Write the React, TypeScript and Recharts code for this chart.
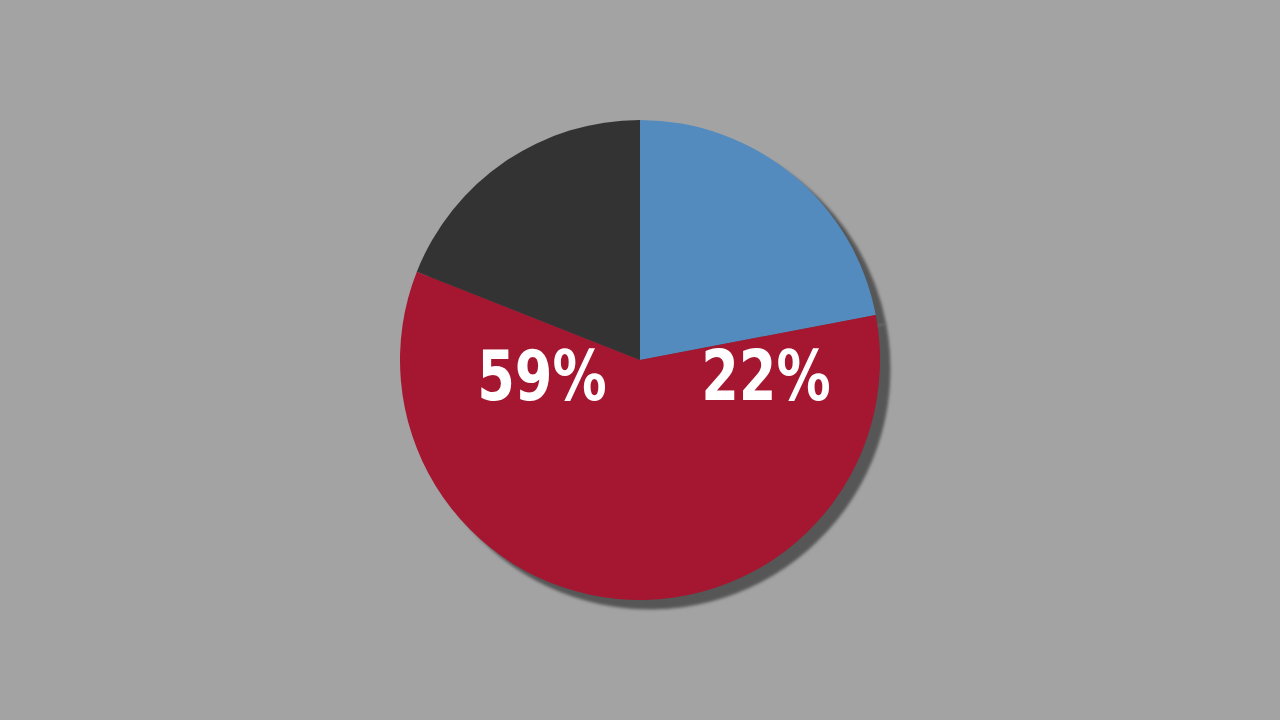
import { Cell, Pie, PieChart } from "recharts";

const slices = ["Blue", "Red", "Dark"];
const shares = [22, 59, 19];
const colors = ["#548bbe", "#a51631", "#333333"];
const showLabel = [true, true, false];

const data = slices.map((name, i) => ({ name, value: shares[i] }));

// label anchor offsets from the pie centre, per slice
const labelOffsets = [
  { dx: 126, dy: 40 },
  { dx: -98, dy: 40 },
  { dx: 0, dy: 0 },
];

const CX = 640;
const CY = 360;
const R = 240;

function renderLabel(props: any) {
  const { index, value } = props;
  if (!showLabel[index]) return null;
  const off = labelOffsets[index];
  const x = CX + off.dx;
  return (
    <text
      x={x}
      y={CY + off.dy}
      textAnchor="middle"
      fill="#ffffff"
      fontFamily="'DejaVu Sans', sans-serif"
      fontStretch="condensed"
      fontWeight={700}
      fontSize={70}
      transform={`translate(${x} 0) scale(0.86 1) translate(${-x} 0)`}
    >
      {`${value}%`}
    </text>
  );
}

export default function App() {
  return (
    <div
      style={{
        position: "absolute",
        top: 0,
        left: 0,
        width: 1280,
        height: 720,
        background: "#a3a3a3",
      }}
    >
      <PieChart width={1280} height={720} margin={{ top: 0, right: 0, bottom: 0, left: 0 }}>
        <defs>
          <filter id="shadowBlur" x="-10%" y="-10%" width="120%" height="120%">
            <feGaussianBlur stdDeviation="1.5" />
          </filter>
        </defs>
        <Pie
          data={data}
          dataKey="value"
          cx={CX + 10}
          cy={CY + 9}
          outerRadius={R}
          startAngle={90}
          endAngle={-270}
          fill="#565656"
          stroke="#565656"
          isAnimationActive={false}
          style={{ filter: "url(#shadowBlur)" }}
        />
        <Pie
          data={data}
          dataKey="value"
          cx={CX}
          cy={CY}
          outerRadius={R}
          startAngle={90}
          endAngle={-270}
          stroke="none"
          labelLine={false}
          label={renderLabel}
          isAnimationActive={false}
        >
          {data.map((d, i) => (
            <Cell key={d.name} fill={colors[i]} />
          ))}
        </Pie>
      </PieChart>
    </div>
  );
}
